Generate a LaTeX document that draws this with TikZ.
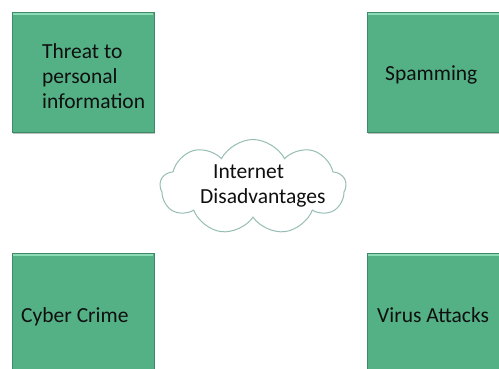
\documentclass[tikz,border=0pt]{standalone}
\usepackage{fontspec}
\setmainfont{Carlito}
\usetikzlibrary{shapes.symbols}
\definecolor{boxgreen}{RGB}{84,177,134}
\definecolor{boxedge}{RGB}{60,138,102}
\definecolor{bevel}{RGB}{140,218,182}
\definecolor{cloudedge}{RGB}{150,190,180}
\definecolor{txt}{RGB}{15,15,15}
\tikzset{
  box/.style={draw=boxedge, line width=0.8bp, fill=boxgreen, rectangle, inner sep=0pt},
  shade box/.style={fill=black!25, draw=none, rectangle, inner sep=0pt},
  label text/.style={anchor=base west, inner sep=0pt, text=txt, font=\fontsize{21.5bp}{25bp}\selectfont},
}
\begin{document}
\begin{tikzpicture}[x=1bp,y=-1bp]
\useasboundingbox (0,0) rectangle (499,368);
\clip (0,0) rectangle (499,368);
\fill[white] (0,0) rectangle (499,368);
% shadows
\node[shade box, minimum width=142bp, minimum height=120bp] (s1) at (84,74) {};
\node[shade box, minimum width=143bp, minimum height=120bp] (s2) at (439.5,74) {};
% boxes
\node[box, minimum width=142bp, minimum height=120bp] (b1) at (83,72) {};
\node[box, minimum width=143bp, minimum height=120bp] (b2) at (438.5,72) {};
\node[box, minimum width=142bp, minimum height=127bp] (b3) at (83,316.5) {};
\node[box, minimum width=143bp, minimum height=127bp] (b4) at (438.5,316.5) {};
% bevel highlights
\foreach \b in {b1,b2,b3,b4}{
  \draw[bevel, line width=2bp] ([xshift=1.5bp,yshift=-2bp]\b.north west) -- ([xshift=-1.5bp,yshift=-2bp]\b.north east);
}
% cloud
\node[cloud, cloud puffs=9, cloud puff arc=125, aspect=2, draw=cloudedge, line width=1bp, fill=white,
      minimum width=186bp, minimum height=95bp, inner sep=0pt] (c) at (253,187) {};
% texts
\node[label text] (t1) at (42,58) {Threat to};
\node[label text] (t2) at (42,83) {personal};
\node[label text] (t3) at (42,108) {information};
\node[label text] (t4) at (385,80) {Spamming};
\node[label text] (t5) at (21,322) {Cyber Crime};
\node[label text] (t6) at (377,322) {Virus Attacks};
\node[label text] (t7) at (213,178) {Internet};
\node[label text] (t8) at (200,203) {Disadvantages};
\end{tikzpicture}
\end{document}
